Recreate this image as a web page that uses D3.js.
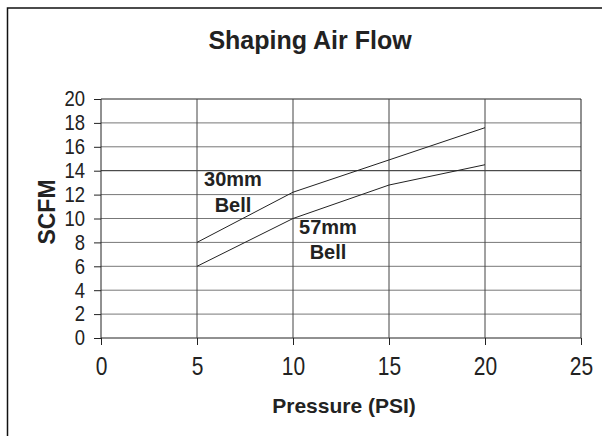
<!DOCTYPE html>
<html><head><meta charset="utf-8">
<script src="https://cdn.jsdelivr.net/npm/d3@7"></script>
<style>body{margin:0;background:#fff}svg{display:block;font-family:"Liberation Sans",Arial,sans-serif}</style>
</head><body>
<svg id="c" width="602" height="436"></svg>
<script>
const pressure = [5, 10, 15, 20];
const bell30 = [8, 12.2, 14.9, 17.6];
const bell57 = [6, 10, 12.8, 14.5];
const xTicks = [0, 5, 10, 15, 20, 25];
const yTicks = [0, 2, 4, 6, 8, 10, 12, 14, 16, 18, 20];
const title = "Shaping Air Flow";
const xTitle = "Pressure (PSI)";
const yTitle = "SCFM";

const svg = d3.select("#c");
const L = 101, R = 581, T = 99, B = 338;
const x = d3.scaleLinear().domain([0, 25]).range([L, R]);
const y = d3.scaleLinear().domain([0, 20]).range([B, T]);

// outer frame (top & left only visible)
svg.append("path").attr("d", "M7.5,436 V8 H602").attr("fill", "none").attr("stroke", "#111").attr("stroke-width", 1.5);

svg.append("text").attr("x", 310).attr("y", 49).attr("text-anchor", "middle")
  .attr("font-size", 25).attr("font-weight", "bold").attr("fill", "#222").text(title);

// horizontal gridlines
svg.append("g").selectAll("line").data(yTicks).join("line")
  .attr("x1", L).attr("x2", R).attr("y1", d => y(d)).attr("y2", d => y(d))
  .attr("stroke", d => (d === 0 || d === 14 || d === 20) ? "#222" : "#777").attr("stroke-width", 1);
// vertical gridlines
svg.append("g").selectAll("line").data(xTicks).join("line")
  .attr("x1", d => x(d)).attr("x2", d => x(d)).attr("y1", T).attr("y2", B)
  .attr("stroke", d => (d === 0 || d === 25) ? "#222" : "#444").attr("stroke-width", 1);

const yAxis = svg.append("g").attr("transform", `translate(${L},0)`)
  .call(d3.axisLeft(y).tickValues(yTicks).tickSize(7).tickPadding(9));
const xAxis = svg.append("g").attr("transform", `translate(0,${B})`)
  .call(d3.axisBottom(x).tickValues(xTicks).tickSize(7).tickPadding(12));
[yAxis, xAxis].forEach(a => {
  a.select(".domain").remove();
  a.selectAll("line").attr("stroke", "#222");
  a.selectAll("text").attr("fill", "#222").attr("font-family", "Liberation Sans, Arial, sans-serif");
});
const ys = 0.86, xs = 0.84;
yAxis.selectAll("text").attr("font-size", 21.5)
  .attr("x", -16 / ys).attr("transform", `scale(${ys},1)`);
xAxis.selectAll("text").attr("font-size", 25).attr("transform", `scale(${xs},1)`);

const line = d3.line().x((d, i) => x(pressure[i])).y(d => y(d));
[bell30, bell57].forEach(s => {
  svg.append("path").attr("d", line(s)).attr("fill", "none").attr("stroke", "#222").attr("stroke-width", 1);
});

const lab = (t, xx, yy) => svg.append("text").attr("x", xx).attr("y", yy).attr("text-anchor", "middle")
  .attr("font-size", 20).attr("font-weight", "bold").attr("fill", "#222").text(t);
lab("30mm", 233, 186);
lab("Bell", 233, 212);
lab("57mm", 328, 234);
lab("Bell", 328, 259);

svg.append("text").attr("x", 344).attr("y", 413).attr("text-anchor", "middle")
  .attr("font-size", 21).attr("font-weight", "bold").attr("fill", "#222").text(xTitle);
svg.append("text").attr("transform", "translate(55,212) rotate(-90)").attr("text-anchor", "middle")
  .attr("font-size", 23).attr("font-weight", "bold").attr("fill", "#222").text(yTitle);
</script>
</body></html>
